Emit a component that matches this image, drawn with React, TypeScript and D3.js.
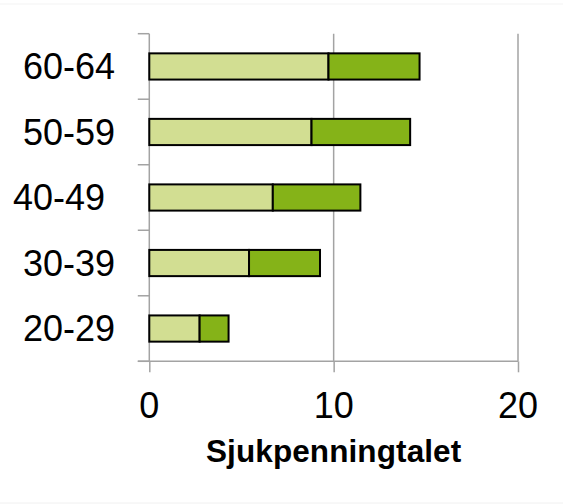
import React, { useEffect, useRef } from 'react';
import * as d3 from 'd3';

// age groups, bottom to top as in the chart
const ageGroups = ['20-29', '30-39', '40-49 ', '50-59', '60-64'];
// first (light) segment and second (dark) segment of each bar
const seriesLight = [2.73, 5.41, 6.7, 8.8, 9.72];
const seriesDark = [1.57, 3.85, 4.75, 5.35, 4.94];
const xTicks = [0, 10, 20];
const xTitle = 'Sjukpenningtalet';

const WIDTH = 563;
const HEIGHT = 504;
const FONT = '"Liberation Sans", Arial, Helvetica, sans-serif';

const App: React.FC = () => {
  const svgRef = useRef<SVGSVGElement>(null);

  useEffect(() => {
    if (!svgRef.current) return;
    const svg = d3.select(svgRef.current);
    svg.selectAll('*').remove();

    const left = 149.3;
    const right = 518;
    const top = 33.7;
    const bottom = 361.3;

    const x = d3.scaleLinear().domain([0, 20]).range([left, right]);
    const y = d3.scaleBand<string>()
      .domain([...ageGroups].reverse())
      .range([top, bottom])
      .padding(0);

    const barH = y.bandwidth() * 0.4;
    const axisColor = '#a3a3a3';

    // faint page edges
    svg.append('line')
      .attr('x1', 0).attr('x2', WIDTH).attr('y1', 4).attr('y2', 4)
      .attr('stroke', '#f3f3f3').attr('stroke-width', 1);
    svg.append('line')
      .attr('x1', 0).attr('x2', WIDTH).attr('y1', 503).attr('y2', 503)
      .attr('stroke', '#f0f0f0').attr('stroke-width', 1);

    // vertical grid lines
    svg.append('g')
      .selectAll('line')
      .data(xTicks.filter(d => d > 0))
      .join('line')
      .attr('x1', d => x(d)).attr('x2', d => x(d))
      .attr('y1', top).attr('y2', bottom)
      .attr('stroke', axisColor)
      .attr('stroke-width', 1.5);

    // bottom axis
    const xAxis = svg.append('g')
      .attr('transform', `translate(0,${bottom})`)
      .call(d3.axisBottom(x).tickValues(xTicks).tickSize(11).tickSizeOuter(0).tickPadding(0));
    xAxis.select('.domain').remove();
    xAxis.selectAll('line').attr('stroke', axisColor).attr('stroke-width', 1.5);
    xAxis.selectAll('text').remove();
    svg.append('line')
      .attr('x1', left - 11.5).attr('x2', right)
      .attr('y1', bottom).attr('y2', bottom)
      .attr('stroke', axisColor).attr('stroke-width', 1.5);

    svg.append('g')
      .selectAll('text')
      .data(xTicks)
      .join('text')
      .attr('x', d => x(d))
      .attr('y', 418)
      .attr('text-anchor', 'middle')
      .style('font-family', FONT)
      .style('font-size', '36px')
      .style('fill', '#000')
      .text(d => d);

    // left axis with ticks on band boundaries
    svg.append('line')
      .attr('x1', left).attr('x2', left)
      .attr('y1', top).attr('y2', bottom)
      .attr('stroke', axisColor).attr('stroke-width', 1.5);
    const boundaries = d3.range(ageGroups.length + 1).map(i => top + i * y.step());
    svg.append('g')
      .selectAll('line')
      .data(boundaries)
      .join('line')
      .attr('x1', left - 11.5).attr('x2', left)
      .attr('y1', d => d).attr('y2', d => d)
      .attr('stroke', axisColor).attr('stroke-width', 1.5);

    svg.append('g')
      .selectAll('text')
      .data(ageGroups)
      .join('text')
      .attr('x', 115)
      .attr('y', d => (y(d) || 0) + y.bandwidth() / 2)
      .attr('dy', '0.35em')
      .attr('text-anchor', 'end')
      .attr('xml:space', 'preserve')
      .style('white-space', 'pre')
      .style('font-family', FONT)
      .style('font-size', '36px')
      .style('fill', '#000')
      .text(d => d);

    // stacked bars
    const rows = ageGroups.map((g, i) => ({ g, a: seriesLight[i], b: seriesDark[i] }));
    const bars = svg.append('g');
    bars.selectAll('rect.light')
      .data(rows)
      .join('rect')
      .attr('class', 'light')
      .attr('x', x(0))
      .attr('y', d => (y(d.g) || 0) + (y.bandwidth() - barH) / 2)
      .attr('width', d => x(d.a) - x(0))
      .attr('height', barH)
      .attr('fill', '#d2de92')
      .attr('stroke', '#000')
      .attr('stroke-width', 2);
    bars.selectAll('rect.dark')
      .data(rows)
      .join('rect')
      .attr('class', 'dark')
      .attr('x', d => x(d.a))
      .attr('y', d => (y(d.g) || 0) + (y.bandwidth() - barH) / 2)
      .attr('width', d => x(d.a + d.b) - x(d.a))
      .attr('height', barH)
      .attr('fill', '#85b318')
      .attr('stroke', '#000')
      .attr('stroke-width', 2);

    // axis title
    svg.append('text')
      .attr('x', (left + right) / 2)
      .attr('y', 462)
      .attr('text-anchor', 'middle')
      .style('font-family', FONT)
      .style('font-size', '31.5px')
      .style('font-weight', 'bold')
      .style('letter-spacing', '0.1px')
      .style('fill', '#000')
      .text(xTitle);
  }, []);

  return (
    <svg
      ref={svgRef}
      width={WIDTH}
      height={HEIGHT}
      style={{ position: 'absolute', left: 0, top: 0, display: 'block', background: '#fff' }}
    />
  );
};

export default App;
